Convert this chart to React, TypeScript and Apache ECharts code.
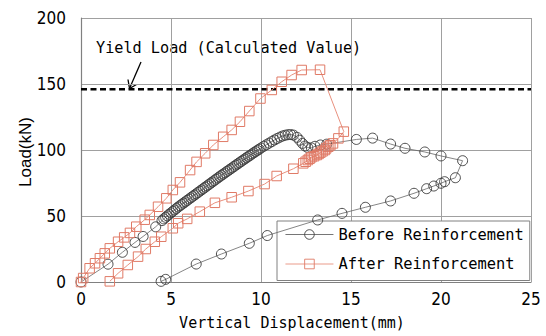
import React, { useEffect, useRef } from "react";
import * as echarts from "echarts";

// ---- Data ----
const xTicks = [0, 5, 10, 15, 20, 25];
const yTicks = [0, 50, 100, 150, 200];
const yieldLoad = 146;

const beforeDisp = [
  0, 1.5, 2.3, 3.0, 3.45, 4.15,
  4.5, 4.6, 4.7, 4.8, 4.9, 5.0, 5.1, 5.2, 5.3, 5.4, 5.5, 5.6, 5.7, 5.8, 5.9,
  6.0, 6.1, 6.2, 6.3, 6.4, 6.5, 6.6, 6.7, 6.8, 6.9, 7.0, 7.1, 7.2, 7.3, 7.4,
  7.5, 7.6, 7.7, 7.8, 7.9, 8.0, 8.1, 8.2, 8.3, 8.4, 8.5, 8.6, 8.7, 8.8, 8.9,
  9.0, 9.1, 9.2, 9.3, 9.4, 9.5, 9.6, 9.7, 9.8, 9.9, 10.0,
  10.15, 10.3, 10.45, 10.6, 10.75, 10.9, 11.05, 11.2, 11.35, 11.5, 11.65, 11.8,
  12.0, 12.15, 12.3, 12.45, 12.6, 12.8, 13.0, 13.3, 13.65,
  15.3, 16.2, 17.2, 18.0, 19.1, 20.0, 21.2,
  20.8, 20.2, 20.0, 19.6, 19.2, 18.5, 17.2, 15.8, 14.5, 13.15, 10.35, 9.35,
  7.8, 6.4, 4.7, 4.45,
];
const beforeLoad = [
  0, 13.5, 22.5, 30.0, 34.5, 41.8,
  46.5, 47.8, 49.0, 50.1, 51.3, 52.4, 53.5, 54.6, 55.7, 56.8, 57.8, 58.8, 59.8, 60.8, 61.8,
  62.8, 63.8, 64.8, 65.8, 66.8, 67.8, 68.8, 69.8, 70.8, 71.8, 72.8, 73.8, 74.8, 75.8, 76.8,
  77.8, 78.8, 79.8, 80.8, 81.7, 82.7, 83.7, 84.6, 85.6, 86.5, 87.5, 88.5, 89.4, 90.4, 91.3,
  92.3, 93.2, 94.2, 95.1, 96.0, 97.0, 97.9, 98.8, 99.7, 100.6, 101.5,
  102.8, 104.0, 105.2, 106.4, 107.6, 108.7, 109.7, 110.6, 111.2, 111.6, 111.7, 111.3,
  109.6, 107.4, 105.0, 103.0, 101.8, 101.6, 102.8, 103.8, 104.4,
  108.0, 109.0, 104.5, 101.3, 98.5, 95.5, 91.9,
  79.0, 76.0, 74.8, 72.7, 70.7, 67.2, 61.4, 56.6, 52.0, 47.0, 35.2, 29.3,
  21.2, 13.6, 2.0, 0.5,
];

const afterDisp = [
  0, 0.12, 0.48, 0.78, 1.05, 1.32, 1.6, 2.06, 2.4, 2.72, 3.07, 3.54, 3.82, 4.28,
  4.74, 5.1, 5.5, 6.06, 6.42, 6.9, 7.35, 7.9, 8.37, 8.83, 9.35, 9.97, 10.6, 11.15,
  11.7, 12.26, 13.28,
  14.6, 14.3, 14.0, 13.85, 13.74, 13.62, 13.55, 13.42, 13.3, 13.2, 13.1, 12.95,
  12.8, 12.7, 12.6, 12.48, 12.35,
  11.8, 10.87, 10.2, 9.3, 8.37, 7.44, 6.6, 5.9, 5.4, 5.1, 4.46, 4.1, 3.6, 3.17,
  2.6, 2.06, 1.6,
];
const afterLoad = [
  0, 3.0, 10.4, 14.2, 18.0, 21.7, 25.5, 30.5, 33.8, 37.2, 41.9, 47.2, 50.8, 57.0,
  63.4, 69.7, 75.5, 84.8, 91.0, 97.5, 103.8, 110.0, 115.2, 121.4, 129.5, 139.0, 145.5, 151.7,
  156.8, 160.6, 160.8,
  113.9, 108.8, 105.0, 103.6, 102.5, 101.2, 100.0, 99.0, 98.0, 97.0, 96.2, 95.3,
  94.5, 93.4, 92.4, 91.1, 89.9,
  85.8, 80.3, 74.2, 68.9, 64.2, 60.0, 53.3, 47.8, 44.5, 40.7, 34.3, 30.5, 25.0, 19.2,
  12.9, 6.6, 0.5,
];

const seriesNames = ["Before Reinforcement", "After Reinforcement"];
const annotationText = "Yield Load (Calculated Value)";
const xTitle = "Vertical Displacement(mm)";
const yTitle = "Load(kN)";

const MONO = "'DejaVu Sans Mono', 'Liberation Mono', monospace";
const NARROW = "'Liberation Sans Narrow', 'DejaVu Sans Condensed', 'Liberation Sans', sans-serif";
const SANS = "'Liberation Sans', Arial, sans-serif";

const zip = (xs: number[], ys: number[]) => xs.map((x, i) => [x, ys[i]]);

export default function App() {
  const ref = useRef<HTMLDivElement>(null);
  useEffect(() => {
    if (!ref.current) return;
    const chart = echarts.init(ref.current, null, { renderer: "svg" });
    const option: any = {
      animation: false,
      backgroundColor: "#fff",
      grid: { left: 81, right: 15, top: 18, bottom: 54, containLabel: false },
      xAxis: {
        type: "value",
        min: xTicks[0],
        max: xTicks[xTicks.length - 1],
        interval: 5,
        axisLine: { show: true, lineStyle: { color: "#808080", width: 1.2 } },
        axisTick: { show: false },
        splitLine: { show: true, lineStyle: { color: "#a0a0a0", width: 1 } },
        axisLabel: { color: "#000", fontFamily: NARROW, fontSize: 17, margin: 8 },
      },
      yAxis: {
        type: "value",
        min: yTicks[0],
        max: yTicks[yTicks.length - 1],
        interval: 50,
        axisLine: { show: true, lineStyle: { color: "#808080", width: 1.2 } },
        axisTick: { show: false },
        splitLine: { show: true, lineStyle: { color: "#a0a0a0", width: 1 } },
        axisLabel: { color: "#000", fontFamily: NARROW, fontSize: 17, margin: 15 },
      },
      legend: {
        data: seriesNames,
        orient: "vertical",
        left: 277,
        top: 221,
        itemWidth: 48,
        itemHeight: 12,
        itemGap: 14.5,
        padding: [6, 6, 9, 8],
        backgroundColor: "#fff",
        borderColor: "#808080",
        borderWidth: 1,
        borderRadius: 0,
        lineStyle: { width: 0.9 },
        itemStyle: { borderWidth: 0.9 },
        textStyle: { color: "#000", fontFamily: MONO, fontSize: 15.4 },
      },
      series: [
        {
          name: "Yield Load",
          type: "line",
          data: [[xTicks[0], yieldLoad], [xTicks[xTicks.length - 1], yieldLoad]],
          showSymbol: false,
          symbol: "none",
          silent: true,
          lineStyle: { color: "#000", width: 2.5, type: [6, 3.5] },
          z: 3,
        },
        {
          name: seriesNames[0],
          type: "line",
          data: zip(beforeDisp, beforeLoad),
          symbol: "circle",
          symbolSize: 10,
          showAllSymbol: true,
          lineStyle: { color: "#666", width: 0.8 },
          itemStyle: { color: "rgba(0,0,0,0)", borderColor: "#3a3a3a", borderWidth: 0.9 },
          z: 4,
        },
        {
          name: seriesNames[1],
          type: "line",
          data: zip(afterDisp, afterLoad),
          symbol: "rect",
          symbolSize: 9.5,
          showAllSymbol: true,
          lineStyle: { color: "#e8907e", width: 1 },
          itemStyle: { color: "rgba(0,0,0,0)", borderColor: "#e07a66", borderWidth: 1 },
          z: 5,
        },
      ],
      graphic: [
        {
          type: "text",
          left: 96,
          top: 40,
          style: { text: annotationText, fontFamily: MONO, fontSize: 15.2, fill: "#000" },
        },
        {
          type: "line",
          shape: { x1: 141, y1: 62, x2: 129.5, y2: 88.5 },
          style: { stroke: "#000", lineWidth: 1.3 },
        },
        {
          type: "polyline",
          shape: { points: [[128, 79.5], [129.5, 88.5], [136.5, 84.5]] },
          style: { stroke: "#000", lineWidth: 1.3, fill: "none" },
        },
        {
          type: "text",
          x: 292,
          y: 323,
          style: {
            text: xTitle,
            fontFamily: MONO,
            fontSize: 15,
            fill: "#000",
            align: "center",
            verticalAlign: "middle",
          },
        },
        {
          type: "text",
          x: 25,
          y: 152,
          rotation: Math.PI / 2,
          style: {
            text: yTitle,
            fontFamily: SANS,
            fontSize: 17,
            fill: "#000",
            align: "center",
            verticalAlign: "middle",
          },
        },
      ],
    };
    chart.setOption(option);
    return () => chart.dispose();
  }, []);
  return (
    <div
      ref={ref}
      style={{ position: "fixed", left: 0, top: 0, width: 546, height: 336, background: "#fff" }}
    />
  );
}
